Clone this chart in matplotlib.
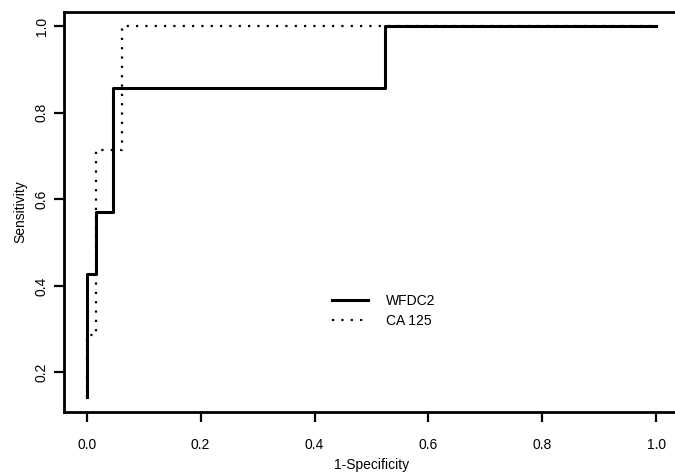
import matplotlib.pyplot as plt

plt.rcParams["font.family"] = ["Liberation Sans", "DejaVu Sans"]

# ROC curve vertices (1-specificity, sensitivity)
wfdc2_fpr = [0.0, 0.0, 1 / 65, 1 / 65, 3 / 65, 3 / 65, 34 / 65, 34 / 65, 1.0]
wfdc2_tpr = [1 / 7, 3 / 7, 3 / 7, 4 / 7, 4 / 7, 6 / 7, 6 / 7, 1.0, 1.0]

ca125_fpr = [0.0, 0.0, 1 / 65, 1 / 65, 4 / 65, 4 / 65, 1.0]
ca125_tpr = [1 / 7, 2 / 7, 2 / 7, 5 / 7, 5 / 7, 1.0, 1.0]

x_ticks = [0.0, 0.2, 0.4, 0.6, 0.8, 1.0]
y_ticks = [0.2, 0.4, 0.6, 0.8, 1.0]

fig = plt.figure(figsize=(6.75, 4.74), dpi=100)
ax = fig.add_axes([64 / 675, 1 - 412 / 474, 615 / 675, 400.5 / 474])

ax.plot(wfdc2_fpr, wfdc2_tpr, color="black", lw=2.2, label="WFDC2")
ax.plot(ca125_fpr, ca125_tpr, color="black", lw=1.6,
        linestyle=(0, (1, 3.2)), label="CA 125")

# R-style 4% axis padding
ymin, ymax = min(wfdc2_tpr + ca125_tpr), 1.0
pad = 0.04 * (ymax - ymin)
ax.set_xlim(-0.04, 1.04)
ax.set_ylim(ymin - pad, ymax + pad)

ax.set_xticks(x_ticks)
ax.set_xticklabels([f"{v:.1f}" for v in x_ticks])
ax.set_yticks(y_ticks)
ax.set_yticklabels([f"{v:.1f}" for v in y_ticks], rotation=90, va="center")

ax.tick_params(axis="x", length=7, width=1.6, labelsize=10, pad=12)
ax.tick_params(axis="y", length=7, width=1.6, labelsize=10, pad=4)
for s in ax.spines.values():
    s.set_linewidth(2.0)
ax.spines["right"].set_visible(False)

ax.set_xlabel("1-Specificity", fontsize=10, labelpad=4)
ax.set_ylabel("Sensitivity", fontsize=10, labelpad=5)

ax.legend(frameon=False, loc="center left", bbox_to_anchor=(0.436, 0.253),
          borderpad=0, borderaxespad=0, handlelength=2.6, handletextpad=1.3,
          labelspacing=0.45, fontsize=10)

fig.savefig("out.png", dpi=100)
